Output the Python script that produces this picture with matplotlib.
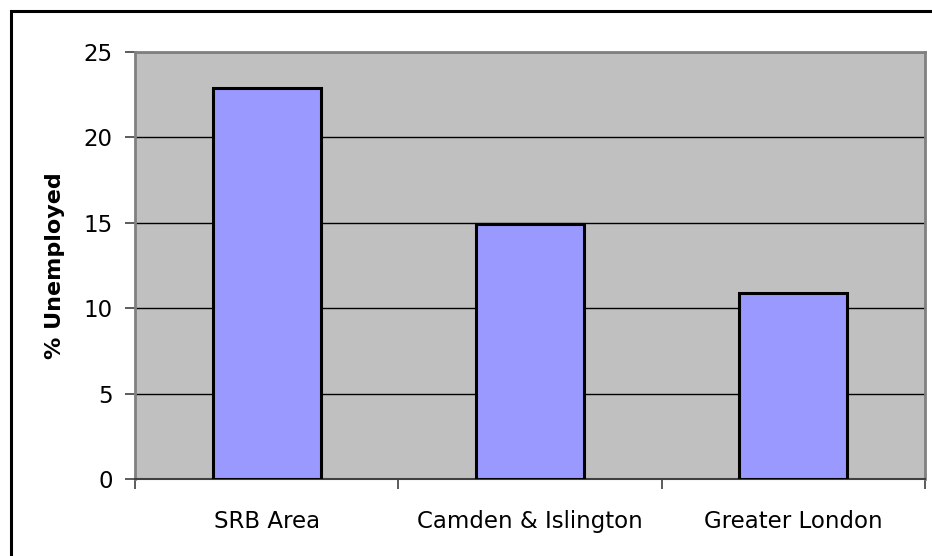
import matplotlib
matplotlib.use("Agg")
import matplotlib.pyplot as plt
from matplotlib.patches import Rectangle

categories = ["SRB Area", "Camden & Islington", "Greater London"]
unemployed = [22.9, 14.95, 10.9]
y_ticks = [0, 5, 10, 15, 20, 25]

W, H = 932, 556
fig = plt.figure(figsize=(W / 100, H / 100), dpi=100)
ax = fig.add_axes([135 / W, 1 - 479 / H, 790 / W, 427 / H])
ax.set_facecolor("#C0C0C0")

x = range(len(categories))
ax.bar(x, unemployed, width=0.41, color="#9999FF", edgecolor="black",
       linewidth=2.2, zorder=3)

ax.set_xlim(-0.5, len(categories) - 0.5)
ax.set_ylim(0, 25)
ax.set_yticks(y_ticks)
ax.set_yticklabels([str(t) for t in y_ticks], fontsize=16.5, family="DejaVu Sans")
ax.yaxis.grid(True, color="black", linewidth=1, zorder=1)
ax.set_axisbelow(True)

# category labels centered, ticks on the boundaries
ax.set_xticks(list(x))
ax.set_xticklabels(categories, fontsize=16.5, family="DejaVu Sans")
ax.tick_params(axis="x", length=0, pad=22)
ax.set_xticks([i + 0.5 for i in range(-1, len(categories))], minor=True)
ax.tick_params(axis="x", which="minor", length=7, width=1.2, color="#404040")
ax.tick_params(axis="y", length=7, width=1.2, color="#404040", pad=9)

ax.set_ylabel("% Unemployed", fontsize=16, fontweight="bold", labelpad=13)

for side in ["left", "top", "right"]:
    ax.spines[side].set_color("#808080")
    ax.spines[side].set_linewidth(2)
ax.spines["bottom"].set_color("#404040")
ax.spines["bottom"].set_linewidth(1.5)

# outer chart border
fig.patches.append(Rectangle((11 / W, -0.1), 1.2, 1 - 11 / H + 0.1,
                             transform=fig.transFigure, fill=False,
                             edgecolor="black", linewidth=2.2))

fig.savefig("out.png", dpi=100)
